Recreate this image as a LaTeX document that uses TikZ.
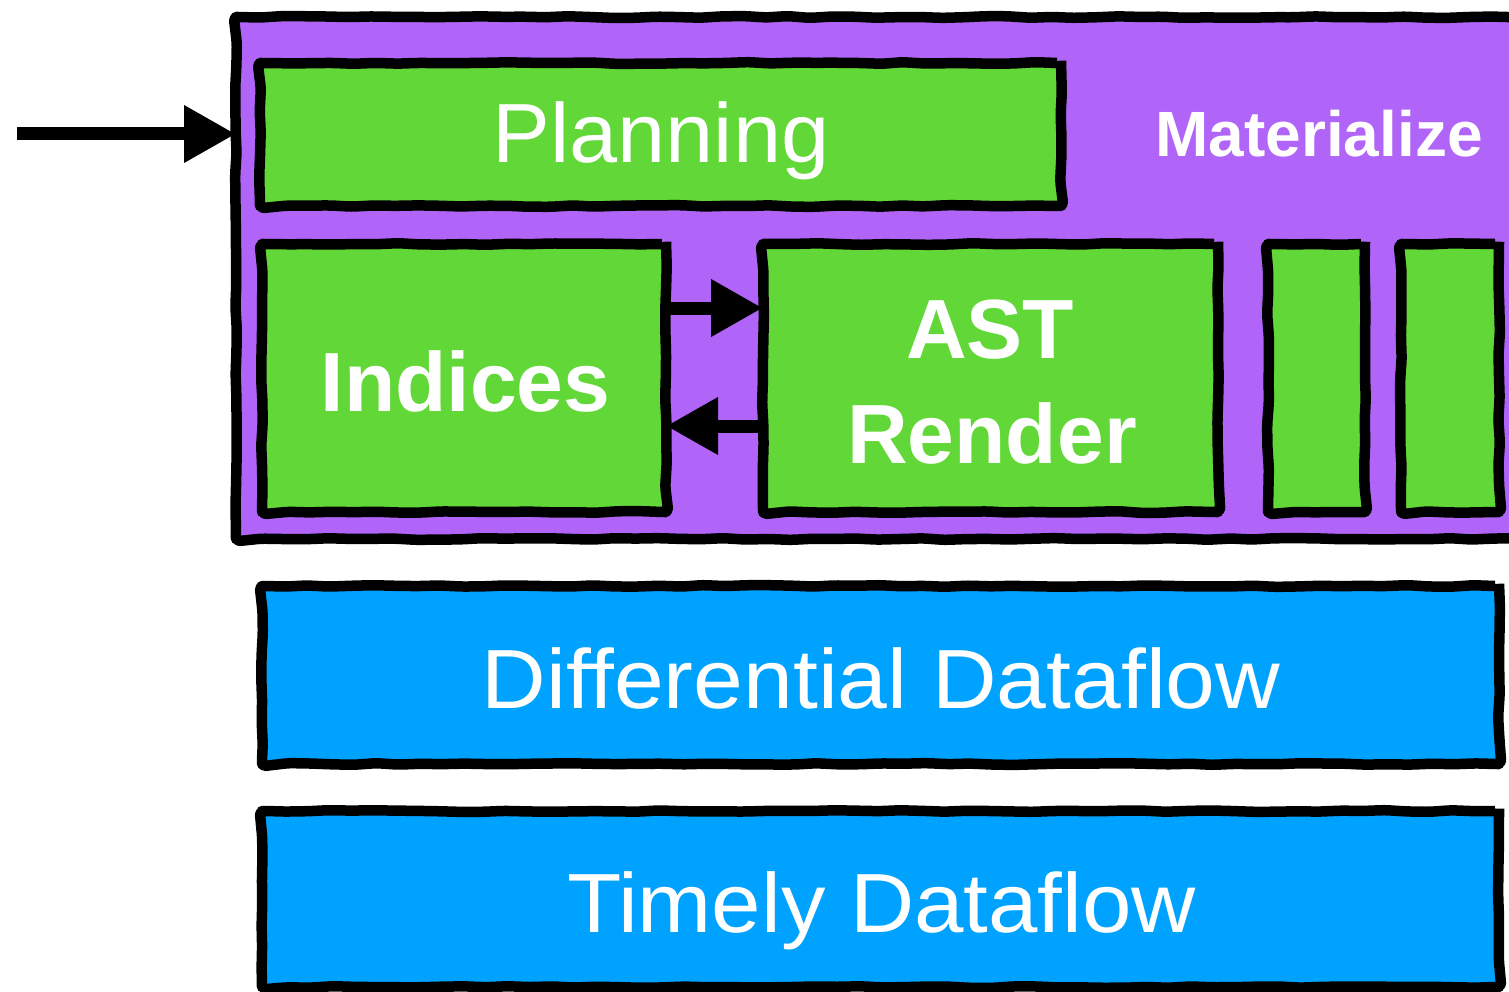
\documentclass[tikz,border=0pt]{standalone}
\usepackage{fontspec}
\setmainfont{Liberation Sans}
\usetikzlibrary{arrows.meta,decorations.pathmorphing}
\definecolor{mzpurple}{RGB}{177,101,248}
\definecolor{mzgreen}{RGB}{98,216,56}
\definecolor{mzblue}{RGB}{0,162,255}
\tikzset{
  box/.style={draw=black, line width=10.5pt, line join=round, rounded corners=4pt, inner sep=0pt, outer sep=0pt, anchor=center,
    decorate, decoration={random steps, segment length=22pt, amplitude=0.9pt}},
  greenbox/.style={box, fill=mzgreen},
  bluebox/.style={box, fill=mzblue},
  purplebox/.style={box, fill=mzpurple},
  bigtxt/.style={text=white, font=\fontsize{84}{100}\selectfont, inner sep=0pt, anchor=base},
  boldtxt/.style={text=white, font=\fontsize{84}{100}\selectfont\bfseries, inner sep=0pt, anchor=base},
  mattxt/.style={text=white, font=\fontsize{64}{76}\selectfont\bfseries, inner sep=0pt, anchor=base},
  arrowline/.style={line width=13pt, -{Triangle[length=52pt,width=54pt]}}
}
\begin{document}
\begin{tikzpicture}[x=1pt,y=-1pt]
\pgfmathsetseed{7}
\useasboundingbox (0,0) rectangle (1509,992);
\clip (0,0) rectangle (1509,992);
% Materialize container
\node[purplebox, minimum width=1304pt, minimum height=522pt] (mat) at (888,278) {};
\node[mattxt] (matlbl) at (1319,157) {Materialize};
% Planning
\node[greenbox, minimum width=801pt, minimum height=143pt] (plan) at (660.5,134.5) {};
\node[bigtxt] (planlbl) at (661,163) {\scalebox{1.03}[1]{Planning}};
% Indices
\node[greenbox, minimum width=404pt, minimum height=268pt] (idx) at (464,378) {};
\node[boldtxt] (idxlbl) at (465.5,411) {Indices};
% AST Render
\node[greenbox, minimum width=455pt, minimum height=268pt] (ast) at (990.5,378) {};
\node[boldtxt] (astlbl) at (990,358) {AST};
\node[boldtxt] (renlbl) at (992,463) {Render};
% small boxes
\node[greenbox, minimum width=97pt, minimum height=268pt] (s1) at (1316.5,378) {};
\node[greenbox, minimum width=98pt, minimum height=268pt] (s2) at (1450,378) {};
% Differential
\node[bluebox, minimum width=1237pt, minimum height=178pt] (dd) at (880.5,675) {};
\node[bigtxt] (ddlbl) at (881,708) {\scalebox{1.065}[1]{Differential Dataflow}};
% Timely
\node[bluebox, minimum width=1237pt, minimum height=176pt] (td) at (880.5,899) {};
\node[bigtxt] (tdlbl) at (881.5,932) {\scalebox{1.058}[1]{Timely Dataflow}};
% arrows
\coordinate (inpt) at (17,134);
\draw[arrowline] (inpt) -- (inpt -| mat.west);
\coordinate (r1) at (0,308);
\coordinate (r2) at (0,426);
\draw[arrowline] (idx.east |- r1) -- (ast.west |- r1);
\draw[arrowline] (ast.west |- r2) -- (idx.east |- r2);
\end{tikzpicture}
\end{document}
